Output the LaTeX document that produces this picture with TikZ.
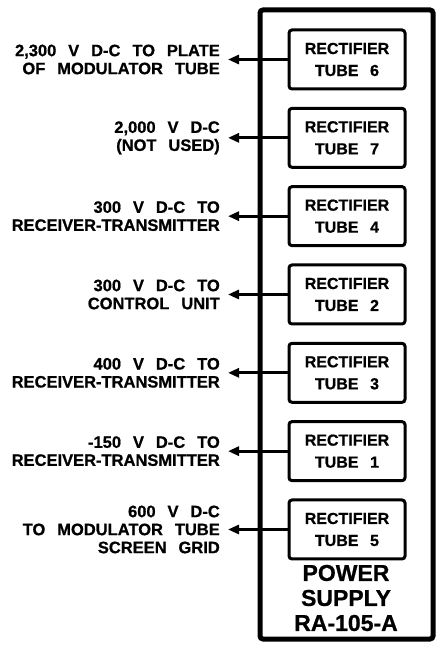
\documentclass[tikz,border=0pt]{standalone}
\usepackage{fontspec}
\setmainfont{Liberation Sans}[WordSpace=2.6,FakeBold=0.8]
\usetikzlibrary{arrows.meta}
\begin{document}
\begin{tikzpicture}[x=1pt,y=-1pt,
 tube/.style={draw,line width=3pt,rounded corners=3pt,minimum width=116pt,minimum height=59pt,align=center,font=\bfseries\fontsize{16}{22}\selectfont,inner sep=0pt},
 lbl/.style={anchor=east,align=right,font=\bfseries\fontsize{16.5}{18}\selectfont,inner sep=0pt},
 feed/.style={line width=3pt,-{Triangle[length=11pt,width=9pt]}},
 title/.style={align=center,font=\bfseries\fontsize{23}{25}\selectfont,inner sep=0pt}]
\useasboundingbox (0,0) rectangle (439,652);
\draw[line width=5pt,rounded corners=3pt] (260,10) rectangle (433,639);
\foreach \i/\n/\txt in {0/6/{2,300 V D-C TO PLATE\\OF MODULATOR TUBE},
                        1/7/{2,000 V D-C\\(NOT USED)},
                        2/4/{300 V D-C TO\\RECEIVER-TRANSMITTER},
                        3/2/{300 V D-C TO\\CONTROL UNIT},
                        4/3/{400 V D-C TO\\RECEIVER-TRANSMITTER},
                        5/1/{-150 V D-C TO\\RECEIVER-TRANSMITTER},
                        6/5/{600 V D-C\\TO MODULATOR TUBE\\SCREEN GRID}}{
  \node[tube] (t\n) at (347,{59.5+78.33*\i}) {RECTIFIER\\TUBE \n};
  \coordinate (a\n) at (228,{59.5+78.33*\i});
  \draw[feed] (t\n.west) -- (a\n);
  \node[lbl] (l\n) at ([xshift=-8pt]a\n) {\txt};
}
\node[title] (ps) at (346,598) {POWER\\SUPPLY\\RA-105-A};
\end{tikzpicture}
\end{document}
